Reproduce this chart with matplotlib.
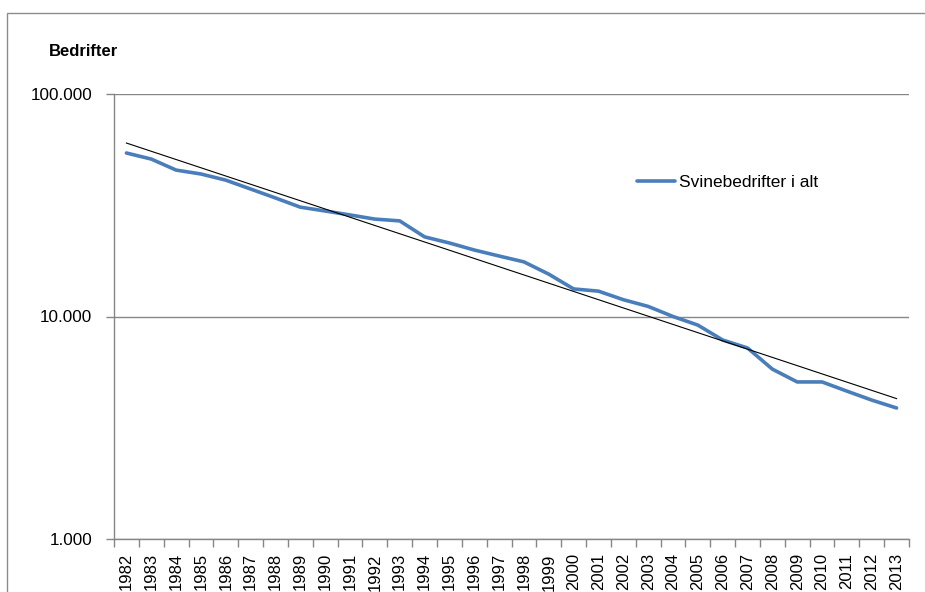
import numpy as np
import matplotlib
matplotlib.use("Agg")
import matplotlib.pyplot as plt
from matplotlib.ticker import FixedLocator, FuncFormatter, NullLocator
from matplotlib.patches import Rectangle

plt.rcParams['font.family'] = ['Liberation Sans', 'DejaVu Sans']

years = list(range(1982, 2014))
farms = [54300, 51000, 45500, 43700, 41000, 37400, 34100, 31000, 29800, 28600,
         27400, 26900, 22800, 21400, 19900, 18700, 17600, 15500, 13300, 13000,
         11900, 11100, 10000, 9150, 7840, 7220, 5800, 5080, 5080, 4620,
         4210, 3880]
series_label = "Svinebedrifter i alt"
y_title = "Bedrifter"
y_ticks = [1000, 10000, 100000]

fig = plt.figure(figsize=(9.25, 5.92), dpi=100)
W, H = 925, 592
ax = fig.add_axes([114 / W, 1 - 539 / H, (909 - 114) / W, (539 - 94) / H])

x = np.arange(len(years))
vals = np.array(farms, dtype=float)

ax.plot(x, vals, color='#4A7EBB', lw=2.6, solid_joinstyle='round',
        solid_capstyle='round', label=series_label, zorder=3)

# exponential trend line (least squares on log values)
coef = np.polyfit(x, np.log(vals), 1)
trend = np.exp(np.polyval(coef, x))
ax.plot(x, trend, color='black', lw=0.8, zorder=4)

ax.set_yscale('log')
ax.set_ylim(1000, 100000)
ax.set_xlim(-0.5, len(years) - 0.5)

ax.yaxis.set_major_locator(FixedLocator(y_ticks))
ax.yaxis.set_minor_locator(NullLocator())
ax.yaxis.set_major_formatter(FuncFormatter(lambda v, p: f"{int(round(v)):,}".replace(",", ".")))
ax.tick_params(axis='y', which='major', length=6, width=1, color='#868686',
               labelsize=12.3, pad=9.5, labelcolor='black')
ax.grid(axis='y', which='major', color='#868686', lw=1)
ax.set_axisbelow(True)

ax.set_xticks(x)
ax.set_xticklabels([str(y) for y in years], rotation=90, fontsize=12)
ax.set_xticks(np.arange(len(years) + 1) - 0.5, minor=True)
ax.tick_params(axis='x', which='major', length=0, pad=10.2)
ax.tick_params(axis='x', which='minor', length=6, width=1, color='#868686')

for s in ['top', 'right']:
    ax.spines[s].set_visible(False)
for s in ['left', 'bottom']:
    ax.spines[s].set_color('#868686')
    ax.spines[s].set_linewidth(1)

leg = ax.legend(loc='center left', bbox_to_anchor=((637 - 114) / (909 - 114), (539 - 182) / (539 - 94)),
                frameon=False, fontsize=12.5, handlelength=2.2, handletextpad=0.2,
                borderpad=0, borderaxespad=0)

fig.text(49 / W, 1 - 51 / H, y_title, fontsize=12, fontweight='bold', ha='left', va='center')

fig.patches.append(Rectangle((7 / W, -0.1), 1.2, 1.1 - 12.7 / H, transform=fig.transFigure,
                             fill=False, edgecolor='#8c8c8c', lw=1))

fig.savefig('out.png', dpi=100)
